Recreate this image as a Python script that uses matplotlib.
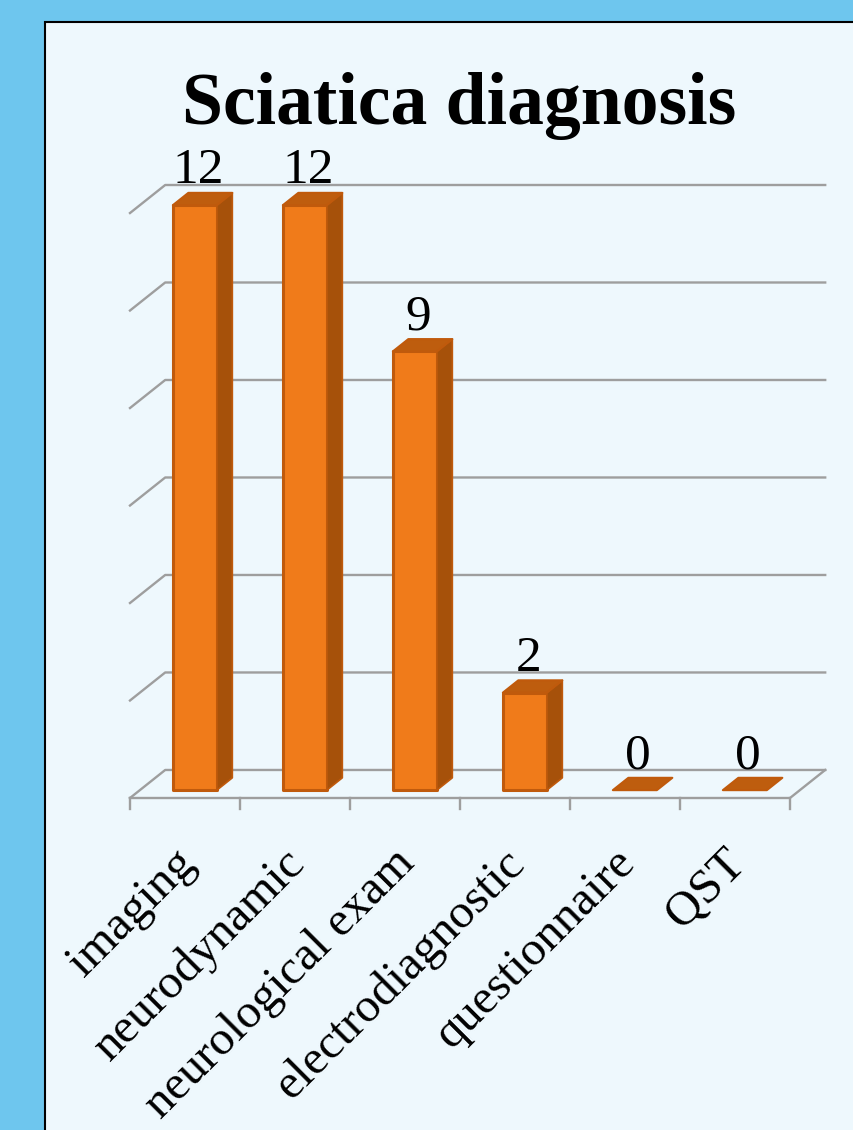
import numpy as np
import matplotlib.pyplot as plt
from matplotlib.patches import Polygon, Rectangle

categories = ['imaging', 'neurodynamic', 'neurological exam', 'electrodiagnostic', 'questionnaire', 'QST']
counts = [12, 12, 9, 2, 0, 0]
grid_values = [0, 2, 4, 6, 8, 10, 12]

plt.rcParams['font.family'] = ['Liberation Serif', 'DejaVu Serif']

W, H = 854, 1130
fig = plt.figure(figsize=(W / 100, H / 100), dpi=100, facecolor='#6EC6EE')

# light panel with a black frame on the left/top
fig.patches.append(Rectangle((45 / W, -0.01), 1.0, 1 - 22 / H + 0.01, transform=fig.transFigure,
                             fc='#EEF8FD', ec='black', lw=1.5, zorder=-10))

# fake 3d: depth offset of the box (data units) and bar placement
DX, DY = 0.32, 0.575
F0, F1 = 0.28, 0.72
BW = 0.4
n = len(categories)

ax = fig.add_axes([130 / W, (H - 798) / H, 700 / W, 613 / H])
ax.set_xlim(0, 700 / 110)
ax.set_ylim(0, max(grid_values) + DY)
ax.axis('off')

grid_col = '#9E9E9E'
for v in grid_values:
    ax.plot([0, DX, n + DX], [v, v + DY, v + DY], color=grid_col, lw=1.7, zorder=1, clip_on=False)
# floor front edge + right edge
ax.plot([0, n, n + DX], [0, 0, DY], color=grid_col, lw=1.7, zorder=1, clip_on=False)
for i in range(n + 1):
    ax.plot([i, i], [0, -0.22], color=grid_col, lw=1.7, zorder=1, clip_on=False)

front_col = '#F07B1A'
side_col = '#A6510A'
top_col = '#BE5D0E'
edge_col = '#C05A0C'
dd = F1 - F0

for i, v in enumerate(counts):
    x0 = i + (1 - BW) / 2 + F0 * DX
    x1 = x0 + BW
    y0 = F0 * DY
    y1 = v + y0
    if v > 0:
        ax.add_patch(Polygon([(x0, y0), (x1, y0), (x1, y1), (x0, y1)], closed=True,
                             fc=front_col, ec=edge_col, lw=2.2, zorder=3, joinstyle='round'))
        ax.add_patch(Polygon([(x1, y0), (x1 + dd * DX, y0 + dd * DY), (x1 + dd * DX, y1 + dd * DY), (x1, y1)],
                             closed=True, fc=side_col, ec=edge_col, lw=1.2, zorder=3, joinstyle='round'))
    ax.add_patch(Polygon([(x0, y1), (x1, y1), (x1 + dd * DX, y1 + dd * DY), (x0 + dd * DX, y1 + dd * DY)],
                         closed=True, fc=top_col, ec=edge_col, lw=1.5, zorder=4, joinstyle='round'))
    # value label
    ax.text(i + 0.5 + F0 * DX + 0.03, v + F1 * DY + 0.2, str(v), ha='center', va='baseline',
            fontsize=37, zorder=5)

# category labels
for i, c in enumerate(categories):
    ax.text(i + 0.67, -0.88, c, rotation=45, ha='right', va='top', fontsize=35, clip_on=False)

fig.text(459 / W, 1 - 124 / H, 'Sciatica diagnosis', ha='center', va='baseline',
         fontsize=53, fontweight='bold')

fig.savefig('out.png', dpi=100, facecolor=fig.get_facecolor())
